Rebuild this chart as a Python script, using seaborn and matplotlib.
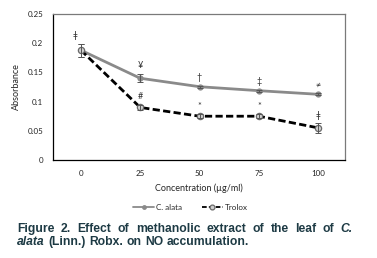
import matplotlib
matplotlib.use("Agg")
import matplotlib.pyplot as plt
import numpy as np
import pandas as pd
import seaborn as sns

# data
concentrations = ["0", "25", "50", "75", "100"]
alata_mean = [0.188, 0.140, 0.1255, 0.1187, 0.1125]
alata_err = [0.011, 0.007, 0.002, 0.002, 0.002]
trolox_mean = [0.188, 0.090, 0.075, 0.075, 0.055]
trolox_err = [0.011, 0.004, 0.003, 0.003, 0.008]
alata_marks = ["", "¥", "†", "‡", "≠"]
trolox_marks = ["ǂ", "#", "*", "*", "ǂ"]

# caption words: (text, italic)
caption_line1 = [("Figure", False), ("2.", False), ("Effect", False), ("of", False),
                 ("methanolic", False), ("extract", False), ("of", False), ("the", False),
                 ("leaf", False), ("of", False), ("C.", True)]
caption_line2 = [("alata", True), ("(Linn.)", False), ("Robx.", False), ("on", False),
                 ("NO", False), ("accumulation.", False)]

GREY = "#8a8a8a"
CAPTION = "#1d3a44"
FONT = ["Lato", "DejaVu Sans"]

sns.set_theme(style="white")
plt.rcParams["font.family"] = FONT

pos = np.arange(len(concentrations))
df = pd.DataFrame({
    "pos": np.concatenate([pos, pos]),
    "absorbance": alata_mean + trolox_mean,
    "series": ["C. alata"] * len(pos) + ["Trolox"] * len(pos),
})

W, H = 377, 258
fig = plt.figure(figsize=(W / 100, H / 100), dpi=100)
ax = fig.add_axes([0.1406, 0.3798, 0.7744, 0.5659])

sns.lineplot(data=df[df.series == "C. alata"], x="pos", y="absorbance", ax=ax,
             color=GREY, lw=2, marker="o", markersize=4.5, markeredgewidth=0,
             label="C. alata", zorder=2)
sns.lineplot(data=df[df.series == "Trolox"], x="pos", y="absorbance", ax=ax,
             color="black", lw=2, linestyle=(0, (2.6, 1.2)), marker="o", markersize=4.5,
             markerfacecolor="#d0d0d0", markeredgecolor="#6a6a6a", markeredgewidth=0.9,
             label="Trolox", zorder=3)

ax.errorbar(pos, alata_mean, yerr=alata_err, fmt="none", ecolor="#555555",
            elinewidth=0.7, capsize=2, capthick=0.7, zorder=4)
ax.errorbar(pos, trolox_mean, yerr=trolox_err, fmt="none", ecolor="#555555",
            elinewidth=0.7, capsize=2, capthick=0.7, zorder=4)

for i, m in enumerate(alata_marks):
    if m:
        ax.text(pos[i], alata_mean[i] + alata_err[i] + 0.014, m, ha="center", va="center",
                fontsize=6.5, color="#333333", family=FONT)
for i, m in enumerate(trolox_marks):
    y = trolox_mean[i] + trolox_err[i] + 0.014
    dx = -0.1 if i == 0 else 0
    ax.text(pos[i] + dx, y, m, ha="center", va="center", fontsize=6.5,
            color="#333333", family=FONT)

ax.set_xlim(-0.47, 4.45)
ax.set_ylim(0, 0.25)
ax.set_xticks(pos)
ax.set_xticklabels(concentrations)
ax.set_yticks([0, 0.05, 0.1, 0.15, 0.2, 0.25])
ax.set_yticklabels(["0", "0.05", "0.1", "0.15", "0.2", "0.25"])
ax.tick_params(axis="both", labelsize=5.8, length=0, pad=7, colors="#222222")
ax.set_xlabel("Concentration (µg/ml)", fontsize=6.5, labelpad=5)
ax.set_ylabel("Absorbance", fontsize=6.5, labelpad=5)

for side in ["left", "bottom"]:
    ax.spines[side].set_color("black")
    ax.spines[side].set_linewidth(0.9)
for side in ["top", "right"]:
    ax.spines[side].set_color("#7a7a7a")
    ax.spines[side].set_linewidth(0.9)

ax.legend_.remove()
handles, labels = ax.get_legend_handles_labels()
leg = fig.legend(handles, labels, loc="center", bbox_to_anchor=(0.505, 0.195), ncol=2,
                 frameon=False, fontsize=5.8, handlelength=2.6, columnspacing=2.5,
                 handletextpad=0.2)
for h in leg.legend_handles:
    h.set_linewidth(1.3)
    h.set_markersize(3.5)


def caption_line(words, x0, y_px, x1=None, gap=3.5, size=8.7):
    # place words one by one; spread them to x1 when given
    renderer = fig.canvas.get_renderer()
    items = []
    for word, italic in words:
        t = fig.text(0, 1 - y_px / H, word, fontsize=size, fontweight="bold",
                     style="italic" if italic else "normal", color=CAPTION,
                     family="Liberation Sans", va="baseline")
        items.append(t)
    widths = [t.get_window_extent(renderer).width for t in items]
    if x1 is not None:
        gap = (x1 - x0 - sum(widths)) / (len(items) - 1)
    x = x0
    for t, w in zip(items, widths):
        t.set_x(x / W)
        x += w + gap


caption_line(caption_line1, 17, 232, x1=353)
caption_line(caption_line2, 17, 245)

fig.savefig("out.png", dpi=100)
